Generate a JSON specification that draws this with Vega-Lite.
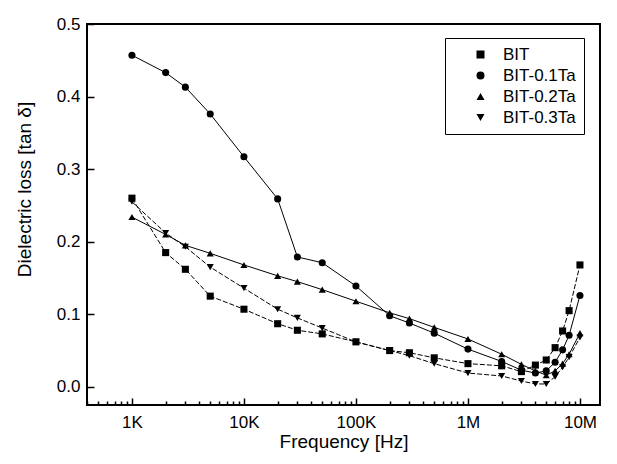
{
  "$schema": "https://vega.github.io/schema/vega-lite/v6.json",
  "autosize": {"type": "none"},
  "width": 513,
  "height": 381,
  "padding": {"left": 87, "top": 24, "right": 17, "bottom": 59},
  "background": "white",
  "config": {
    "view": {"stroke": "black", "strokeWidth": 2},
    "font": "Liberation Sans",
    "axis": {
      "domain": false, "grid": false, "tickColor": "black", "tickWidth": 1.5,
      "labelColor": "black", "labelFont": "Liberation Sans", "labelFontSize": 17,
      "titleColor": "black", "titleFont": "Liberation Sans", "titleFontSize": 19, "titleFontWeight": "normal"
    }
  },
  "data": {"values": [
    {"f": 1000, "v": 0.26, "s": "BIT"}, {"f": 2000, "v": 0.185, "s": "BIT"}, {"f": 3000, "v": 0.162, "s": "BIT"}, {"f": 5000, "v": 0.125, "s": "BIT"}, {"f": 10000, "v": 0.107, "s": "BIT"}, {"f": 20000, "v": 0.087, "s": "BIT"}, {"f": 30000, "v": 0.078, "s": "BIT"}, {"f": 50000, "v": 0.073, "s": "BIT"}, {"f": 100000, "v": 0.062, "s": "BIT"}, {"f": 200000, "v": 0.05, "s": "BIT"}, {"f": 300000, "v": 0.047, "s": "BIT"}, {"f": 500000, "v": 0.04, "s": "BIT"}, {"f": 1000000, "v": 0.032, "s": "BIT"}, {"f": 2000000, "v": 0.029, "s": "BIT"}, {"f": 3000000, "v": 0.021, "s": "BIT"}, {"f": 4000000, "v": 0.03, "s": "BIT"}, {"f": 5000000, "v": 0.037, "s": "BIT"}, {"f": 6000000, "v": 0.054, "s": "BIT"}, {"f": 7000000, "v": 0.077, "s": "BIT"}, {"f": 8000000, "v": 0.105, "s": "BIT"}, {"f": 10000000, "v": 0.168, "s": "BIT"},
    {"f": 1000, "v": 0.457, "s": "BIT-0.1Ta"}, {"f": 2000, "v": 0.433, "s": "BIT-0.1Ta"}, {"f": 3000, "v": 0.413, "s": "BIT-0.1Ta"}, {"f": 5000, "v": 0.376, "s": "BIT-0.1Ta"}, {"f": 10000, "v": 0.317, "s": "BIT-0.1Ta"}, {"f": 20000, "v": 0.259, "s": "BIT-0.1Ta"}, {"f": 30000, "v": 0.179, "s": "BIT-0.1Ta"}, {"f": 50000, "v": 0.171, "s": "BIT-0.1Ta"}, {"f": 100000, "v": 0.139, "s": "BIT-0.1Ta"}, {"f": 200000, "v": 0.098, "s": "BIT-0.1Ta"}, {"f": 300000, "v": 0.088, "s": "BIT-0.1Ta"}, {"f": 500000, "v": 0.074, "s": "BIT-0.1Ta"}, {"f": 1000000, "v": 0.052, "s": "BIT-0.1Ta"}, {"f": 2000000, "v": 0.035, "s": "BIT-0.1Ta"}, {"f": 3000000, "v": 0.023, "s": "BIT-0.1Ta"}, {"f": 4000000, "v": 0.019, "s": "BIT-0.1Ta"}, {"f": 5000000, "v": 0.022, "s": "BIT-0.1Ta"}, {"f": 6000000, "v": 0.034, "s": "BIT-0.1Ta"}, {"f": 7000000, "v": 0.051, "s": "BIT-0.1Ta"}, {"f": 8000000, "v": 0.071, "s": "BIT-0.1Ta"}, {"f": 10000000, "v": 0.126, "s": "BIT-0.1Ta"},
    {"f": 1000, "v": 0.234, "s": "BIT-0.2Ta"}, {"f": 2000, "v": 0.21, "s": "BIT-0.2Ta"}, {"f": 3000, "v": 0.195, "s": "BIT-0.2Ta"}, {"f": 5000, "v": 0.184, "s": "BIT-0.2Ta"}, {"f": 10000, "v": 0.168, "s": "BIT-0.2Ta"}, {"f": 20000, "v": 0.153, "s": "BIT-0.2Ta"}, {"f": 30000, "v": 0.145, "s": "BIT-0.2Ta"}, {"f": 50000, "v": 0.134, "s": "BIT-0.2Ta"}, {"f": 100000, "v": 0.118, "s": "BIT-0.2Ta"}, {"f": 200000, "v": 0.102, "s": "BIT-0.2Ta"}, {"f": 300000, "v": 0.094, "s": "BIT-0.2Ta"}, {"f": 500000, "v": 0.082, "s": "BIT-0.2Ta"}, {"f": 1000000, "v": 0.066, "s": "BIT-0.2Ta"}, {"f": 2000000, "v": 0.045, "s": "BIT-0.2Ta"}, {"f": 3000000, "v": 0.031, "s": "BIT-0.2Ta"}, {"f": 4000000, "v": 0.022, "s": "BIT-0.2Ta"}, {"f": 5000000, "v": 0.016, "s": "BIT-0.2Ta"}, {"f": 6000000, "v": 0.022, "s": "BIT-0.2Ta"}, {"f": 7000000, "v": 0.032, "s": "BIT-0.2Ta"}, {"f": 8000000, "v": 0.045, "s": "BIT-0.2Ta"}, {"f": 10000000, "v": 0.074, "s": "BIT-0.2Ta"},
    {"f": 1000, "v": 0.255, "s": "BIT-0.3Ta"}, {"f": 2000, "v": 0.212, "s": "BIT-0.3Ta"}, {"f": 3000, "v": 0.193, "s": "BIT-0.3Ta"}, {"f": 5000, "v": 0.165, "s": "BIT-0.3Ta"}, {"f": 10000, "v": 0.136, "s": "BIT-0.3Ta"}, {"f": 20000, "v": 0.107, "s": "BIT-0.3Ta"}, {"f": 30000, "v": 0.095, "s": "BIT-0.3Ta"}, {"f": 50000, "v": 0.081, "s": "BIT-0.3Ta"}, {"f": 100000, "v": 0.062, "s": "BIT-0.3Ta"}, {"f": 200000, "v": 0.05, "s": "BIT-0.3Ta"}, {"f": 300000, "v": 0.043, "s": "BIT-0.3Ta"}, {"f": 500000, "v": 0.032, "s": "BIT-0.3Ta"}, {"f": 1000000, "v": 0.019, "s": "BIT-0.3Ta"}, {"f": 2000000, "v": 0.015, "s": "BIT-0.3Ta"}, {"f": 3000000, "v": 0.008, "s": "BIT-0.3Ta"}, {"f": 4000000, "v": 0.004, "s": "BIT-0.3Ta"}, {"f": 5000000, "v": 0.004, "s": "BIT-0.3Ta"}, {"f": 6000000, "v": 0.014, "s": "BIT-0.3Ta"}, {"f": 7000000, "v": 0.027, "s": "BIT-0.3Ta"}, {"f": 8000000, "v": 0.041, "s": "BIT-0.3Ta"}, {"f": 10000000, "v": 0.068, "s": "BIT-0.3Ta"}
  ]},
  "resolve": {"axis": {"x": "independent"}},
  "layer": [
    {
      "transform": [{"filter": "datum.s == 'BIT-0.1Ta' || datum.s == 'BIT-0.2Ta'"}],
      "mark": {"type": "line", "color": "black", "strokeWidth": 1},
      "encoding": {
        "x": {"field": "f", "type": "quantitative",
              "scale": {"type": "log", "domain": [397, 15100000], "nice": false},
              "axis": {"orient": "bottom", "values": [1000, 10000, 100000, 1000000, 10000000],
                       "labelExpr": "datum.value == 1000 ? '1K' : datum.value == 10000 ? '10K' : datum.value == 100000 ? '100K' : datum.value == 1000000 ? '1M' : '10M'",
                       "tickSize": -7, "labelPadding": 16, "title": "Frequency [Hz]", "titleY": 27, "titleBaseline": "top"}},
        "y": {"field": "v", "type": "quantitative",
              "scale": {"domain": [-0.025, 0.5], "nice": false, "zero": false},
              "axis": {"values": [0, 0.1, 0.2, 0.3, 0.4, 0.5], "format": ".1f", "tickSize": -7, "labelPadding": 14,
                       "title": "Dielectric loss [tan δ]", "titleX": -63, "titleY": 165, "titleBaseline": "middle", "titleAngle": -90}},
        "detail": {"field": "s"}
      }
    },
    {
      "transform": [{"filter": "datum.s == 'BIT' || datum.s == 'BIT-0.3Ta'"}],
      "mark": {"type": "line", "color": "black", "strokeWidth": 1, "strokeDash": [5, 2]},
      "encoding": {
        "x": {"field": "f", "type": "quantitative", "axis": null},
        "y": {"field": "v", "type": "quantitative"},
        "detail": {"field": "s"}
      }
    },
    {
      "mark": {"type": "point", "filled": true, "color": "black", "opacity": 1, "size": 50},
      "encoding": {
        "x": {"field": "f", "type": "quantitative",
              "axis": {"orient": "bottom", "values": [400, 500, 600, 700, 800, 900, 2000, 3000, 4000, 5000, 6000, 7000, 8000, 9000, 20000, 30000, 40000, 50000, 60000, 70000, 80000, 90000, 200000, 300000, 400000, 500000, 600000, 700000, 800000, 900000, 2000000, 3000000, 4000000, 5000000, 6000000, 7000000, 8000000, 9000000],
                       "labels": false, "tickSize": -4, "title": null}},
        "y": {"field": "v", "type": "quantitative"},
        "shape": {"field": "s", "type": "nominal",
                  "scale": {"domain": ["BIT", "BIT-0.1Ta", "BIT-0.2Ta", "BIT-0.3Ta"], "range": ["square", "circle", "triangle-up", "triangle-down"]},
                  "legend": {
                    "title": null, "orient": "none", "legendX": 358, "legendY": 14,
                    "strokeColor": "black", "fillColor": "white", "padding": 8,
                    "labelFont": "Liberation Sans", "labelFontSize": 17, "labelColor": "black",
                    "symbolSize": 64, "symbolOffset": 19, "labelOffset": 14, "rowPadding": 3,
                    "symbolFillColor": "black", "symbolStrokeColor": "black", "symbolStrokeWidth": 1,
                    "encode": {"symbols": {
                      "fill": {"value": "black"}, "stroke": {"value": "black"}, "strokeWidth": {"value": 1}, "opacity": {"value": 1},
                      "shape": {"value": {"expr": "datum.value == 'BIT' ? 'M-4.75,0H-4.35M-4.0,0H-3.6M-3.25,0H-2.85M-2.5,0H-1.9M-1.5,0H-0.9M0.9,0H4.75M-0.9,-0.9H0.9V0.9H-0.9Z' : datum.value == 'BIT-0.1Ta' ? 'M-4.75,0H4.75M-1,0A1,1 0 1,0 1,0A1,1 0 1,0 -1,0Z' : datum.value == 'BIT-0.2Ta' ? 'M-4.75,0H4.75M0,-1.2L1.2,0.9H-1.2Z' : 'M-4.75,0H-4.1M-3.7,0H-3.05M-2.65,0H-2.0M-1.6,0H-1M1,0H4.75M0,1.2L1.2,-0.9H-1.2Z'"}}
                    }}
                  }}
      }
    }
  ]
}
